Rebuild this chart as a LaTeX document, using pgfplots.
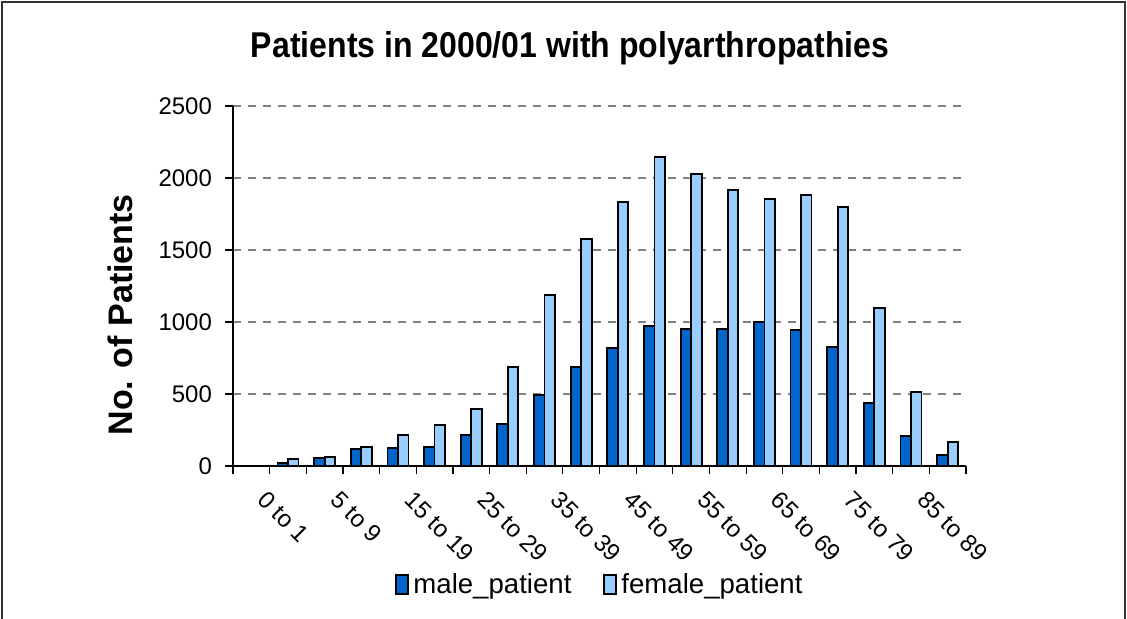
\documentclass[border=0pt]{standalone}
\usepackage{fontspec}
\setmainfont{Liberation Sans}
\usepackage{pgfplots}
\pgfplotsset{compat=1.18}
\definecolor{male}{HTML}{0066CC}
\definecolor{female}{HTML}{99CCFF}
\definecolor{gridc}{HTML}{808080}
\begin{document}
\begin{tikzpicture}
\useasboundingbox (0,0) rectangle (563.5pt,309pt);
\draw[line width=0.6pt, black!80] (1pt,-5pt) -- (1pt,308pt) -- (562.5pt,308pt) -- (562.5pt,-5pt);
\begin{axis}[
  at={(116.5pt,76pt)}, anchor=south west,
  scale only axis, width=366.5pt, height=180pt,
  ybar=0pt, bar width=5.25pt,
  xmin=-0.5, xmax=19.5, ymin=0, ymax=2500,
  axis x line*=bottom, axis y line*=left,
  axis line style={-, line width=0.6pt, black},
  xtick={-0.5,0.5,...,19.5}, xticklabels={},
  extra x ticks={0,2,4,6,8,10,12,14,16,18},
  extra x tick labels={0 to 1,5 to 9,15 to 19,25 to 29,35 to 39,45 to 49,55 to 59,65 to 69,75 to 79,85 to 89},
  extra x tick style={major tick length=0pt, xticklabel style={xshift=8.5pt, yshift=-7pt, rotate=-45, anchor=north west, font=\fontsize{12}{13}\selectfont}},
  ytick={0,500,...,2500},
  yticklabel style={font=\fontsize{12}{13}\selectfont, xshift=-3pt},
  /pgf/number format/assume math mode=true,
  /pgf/number format/1000 sep={},
  tick align=outside, major tick length=4pt,
  tick style={line width=0.6pt, black},
  ymajorgrids, grid style={dashed, gridc, line width=0.6pt, dash pattern=on 4pt off 3.5pt},
  title={\scalebox{1}[1.12]{\bfseries\fontsize{16}{18}\selectfont Patients in 2000/01 with polyarthropathies}},
  title style={at={(0.46,1.127)}, anchor=center},
  ylabel={\bfseries\fontsize{17}{19}\selectfont No. of Patients},
  ylabel style={at={(-0.154,0.42)}, anchor=center, rotate=0},
  legend style={at={(0.502,-0.33)}, anchor=center, draw=none, fill=none, legend columns=2,
    font=\fontsize{13.8}{15}\selectfont,
    /tikz/every even column/.append style={column sep=14pt}},
  legend image code/.code={\draw[#1, line width=1pt] (0pt,-4.7pt) rectangle (6pt,4.7pt);},
]
\addplot[draw=black, fill=male, line width=0.9pt] coordinates {
(0,3) (1,23) (2,56) (3,116) (4,125) (5,134) (6,218) (7,294) (8,495) (9,685)
(10,819) (11,972) (12,954) (13,954) (14,1000) (15,944) (16,824) (17,435) (18,208) (19,74)};
\addplot[draw=black, fill=female, line width=0.9pt] coordinates {
(0,4) (1,46) (2,63) (3,134) (4,218) (5,285) (6,396) (7,690) (8,1185) (9,1574)
(10,1831) (11,2148) (12,2028) (13,1917) (14,1854) (15,1882) (16,1799) (17,1097) (18,516) (19,169)};
\legend{male\_patient, female\_patient}
\end{axis}
\end{tikzpicture}
\end{document}
